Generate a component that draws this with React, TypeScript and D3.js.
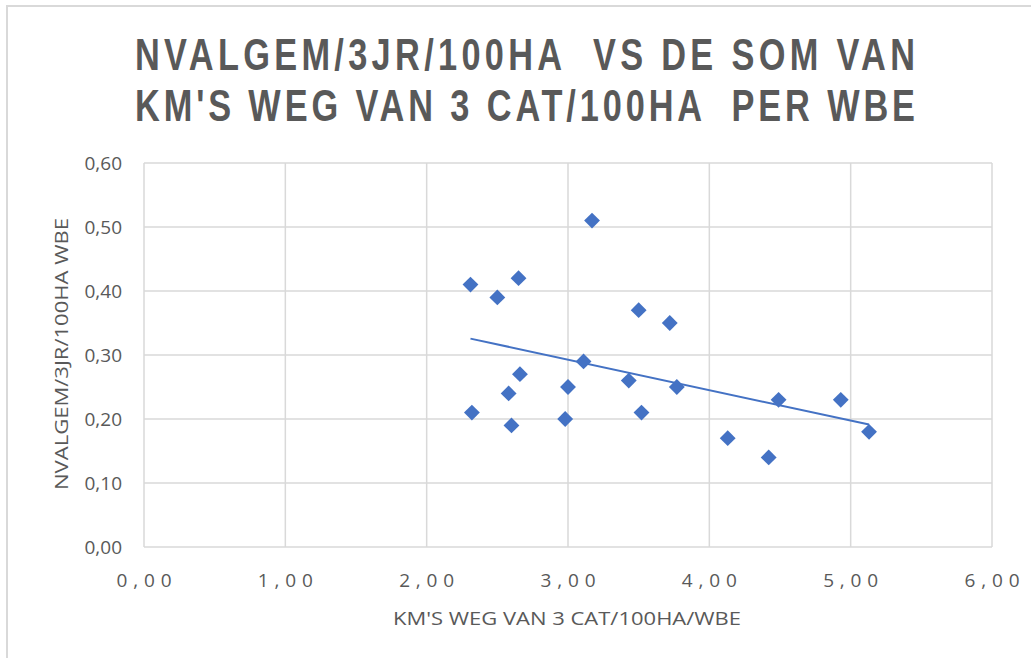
import React from "react";
import * as d3 from "d3";

const titleLines = ["NVALGEM/3JR/100HA  VS DE SOM VAN", "KM'S WEG VAN 3 CAT/100HA  PER WBE"];
const xAxisTitle = "KM'S WEG VAN 3 CAT/100HA/WBE";
const yAxisTitle = "NVALGEM/3JR/100HA WBE";

const xTicks = [0, 1, 2, 3, 4, 5, 6];
const yTicks = [0, 0.1, 0.2, 0.3, 0.4, 0.5, 0.6];

const xValues = [2.31, 2.5, 2.65, 3.17, 3.5, 3.72, 3.11, 2.66, 2.58, 3.0, 3.43, 3.77, 2.32, 2.6, 2.98, 3.52, 4.13, 4.42, 4.49, 4.93, 5.13];
const yValues = [0.41, 0.39, 0.42, 0.51, 0.37, 0.35, 0.29, 0.27, 0.24, 0.25, 0.26, 0.25, 0.21, 0.19, 0.2, 0.21, 0.17, 0.14, 0.23, 0.23, 0.18];

const fmt = (v: number) => v.toFixed(2).replace(".", ",");

export default function App() {
  const W = 1031, H = 658;
  const x = d3.scaleLinear().domain([0, 6]).range([144, 992]);
  const y = d3.scaleLinear().domain([0, 0.6]).range([547, 163]);

  // linear regression trendline
  const n = xValues.length;
  const mx = d3.mean(xValues)!;
  const my = d3.mean(yValues)!;
  let sxy = 0, sxx = 0;
  for (let i = 0; i < n; i++) {
    sxy += (xValues[i] - mx) * (yValues[i] - my);
    sxx += (xValues[i] - mx) ** 2;
  }
  const slope = sxy / sxx;
  const icpt = my - slope * mx;
  const x0 = d3.min(xValues)!, x1 = d3.max(xValues)!;
  const trend = d3.line<number>().x((d) => x(d)).y((d) => y(icpt + slope * d))([x0, x1]);

  const diamond = d3.symbol().type(d3.symbolDiamond2).size(160)();
  const grid = "#d9d9d9";
  const txt = "#595959";
  const font = "'Open Sans', 'Liberation Sans', sans-serif";
  const sx = 0.78;

  return (
    <svg width={W} height={H} style={{ position: "absolute", left: 0, top: 0 }} fontFamily={font}>
      <rect x={0} y={0} width={W} height={H} fill="#fff" />
      <line x1={6} x2={W} y1={6} y2={6} stroke={grid} strokeWidth={2} />
      <line x1={7} x2={7} y1={6} y2={H} stroke={grid} strokeWidth={2} />

      {titleLines.map((t, i) => (
        <text key={i} transform={`translate(525,${70 + i * 51}) scale(${sx},1)`} textAnchor="middle" fontSize={44} fontWeight="bold" fill={txt}
          fontFamily="'Liberation Sans', Arial, sans-serif"
          textLength={780 / sx} lengthAdjust="spacing" style={{ whiteSpace: "pre" }}>
          {t}
        </text>
      ))}

      {yTicks.map((t) => (
        <line key={"gy" + t} x1={x(0)} x2={x(6)} y1={y(t)} y2={y(t)} stroke={grid} strokeWidth={1.5} />
      ))}
      {xTicks.map((t) => (
        <line key={"gx" + t} x1={x(t)} x2={x(t)} y1={y(0)} y2={y(0.6)} stroke={grid} strokeWidth={1.5} />
      ))}

      {yTicks.map((t) => (
        <text key={"ly" + t} x={122} y={y(t) + 6.5} textAnchor="end" fontSize={19} fill={txt}>{fmt(t)}</text>
      ))}
      {xTicks.map((t) => (
        <text key={"lx" + t} x={x(t)} y={587} textAnchor="middle" fontSize={19} fill={txt}
          textLength={55} lengthAdjust="spacing">{fmt(t)}</text>
      ))}

      <text x={567} y={625} textAnchor="middle" fontSize={18} fill={txt} textLength={348} lengthAdjust="spacingAndGlyphs">{xAxisTitle}</text>
      <text transform={`translate(68,354) rotate(-90)`} textAnchor="middle" fontSize={18} fill={txt} textLength={272} lengthAdjust="spacingAndGlyphs">{yAxisTitle}</text>

      <path d={trend ?? ""} fill="none" stroke="#4472C4" strokeWidth={2} />

      {xValues.map((xv, i) => (
        <path key={"p" + i} d={diamond ?? ""} transform={`translate(${x(xv)},${y(yValues[i])})`} fill="#4472C4" />
      ))}
    </svg>
  );
}
